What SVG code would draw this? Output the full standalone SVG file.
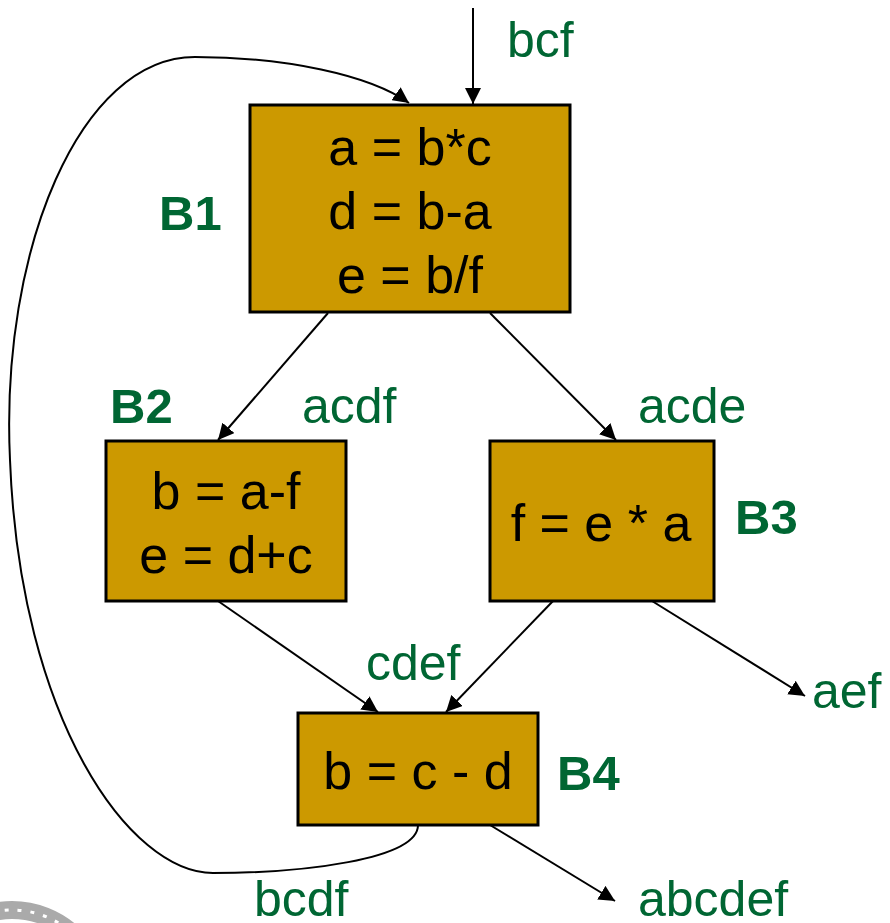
<svg xmlns="http://www.w3.org/2000/svg" width="890" height="923" viewBox="0 0 890 923">
  <style>
    .box { fill: #CC9900; stroke: #000; stroke-width: 3; }
    .code { font-family: "Liberation Sans", Arial, sans-serif; font-size: 52px; fill: #000; text-anchor: middle; }
    .live { font-family: "Liberation Sans", Arial, sans-serif; font-size: 50px; fill: #006633; }
    .blk { font-family: "Liberation Sans", Arial, sans-serif; font-size: 49px; font-weight: bold; fill: #006633; }
    .edge { fill: none; stroke: #000; stroke-width: 2; marker-end: url(#arrow); }
  </style>
  <defs>
    <marker id="arrow" viewBox="0 0 10 10" refX="10" refY="5" markerWidth="16" markerHeight="16" markerUnits="userSpaceOnUse" orient="auto">
      <path d="M0,0 L10,5 L0,10 Z" fill="#000"/>
    </marker>
    <clipPath id="seal-clip">
      <rect x="0" y="880" width="120" height="43"/>
    </clipPath>
  </defs>

  <rect width="890" height="923" fill="#fff"/>

  <!-- partial seal in the bottom-left corner -->
  <g id="seal" clip-path="url(#seal-clip)">
    <circle cx="12" cy="1000" r="90" fill="none" stroke="#aaa" stroke-width="18"/>
    <circle cx="12" cy="1000" r="90" fill="none" stroke="#fff" stroke-width="3" stroke-dasharray="4 9"/>
  </g>

  <!-- connectors -->
  <g id="connectors">
    <line class="edge" x1="473" y1="8" x2="473" y2="104"/>
    <line class="edge" x1="328" y1="313" x2="218" y2="440"/>
    <line class="edge" x1="490" y1="313" x2="616" y2="440"/>
    <line class="edge" x1="218" y1="601" x2="378" y2="712"/>
    <line class="edge" x1="553" y1="601" x2="446" y2="712"/>
    <line class="edge" x1="652" y1="601" x2="805" y2="696"/>
    <line class="edge" x1="490" y1="825" x2="615" y2="901"/>
    <path class="edge" d="M418,825 C418,860 300,873 213,873 C130,873 20,720 10,460 C0,250 80,57 195,57 C285,57 370,75 409,103"/>
  </g>

  <!-- basic blocks -->
  <g id="B1">
    <rect class="box" x="250" y="105" width="320" height="207"/>
    <text class="code" x="410" y="165">a = b*c</text>
    <text class="code" x="410" y="229">d = b-a</text>
    <text class="code" x="410" y="293">e = b/f</text>
    <text class="blk" x="159" y="230">B1</text>
  </g>
  <g id="B2">
    <rect class="box" x="106" y="441" width="240" height="160"/>
    <text class="code" x="226" y="509">b = a-f</text>
    <text class="code" x="226" y="573">e = d+c</text>
    <text class="blk" x="110" y="423">B2</text>
  </g>
  <g id="B3">
    <rect class="box" x="490" y="441" width="224" height="160"/>
    <text class="code" x="601" y="541">f = e * a</text>
    <text class="blk" x="735" y="534">B3</text>
  </g>
  <g id="B4">
    <rect class="box" x="298" y="713" width="240" height="112"/>
    <text class="code" x="418" y="789">b = c - d</text>
    <text class="blk" x="557" y="790">B4</text>
  </g>

  <!-- live-variable labels -->
  <g id="labels">
    <text class="live" x="507" y="57">bcf</text>
    <text class="live" x="302" y="423">acdf</text>
    <text class="live" x="638" y="423">acde</text>
    <text class="live" x="366" y="680">cdef</text>
    <text class="live" x="812" y="708">aef</text>
    <text class="live" x="254" y="916">bcdf</text>
    <text class="live" x="638" y="916">abcdef</text>
  </g>
</svg>
